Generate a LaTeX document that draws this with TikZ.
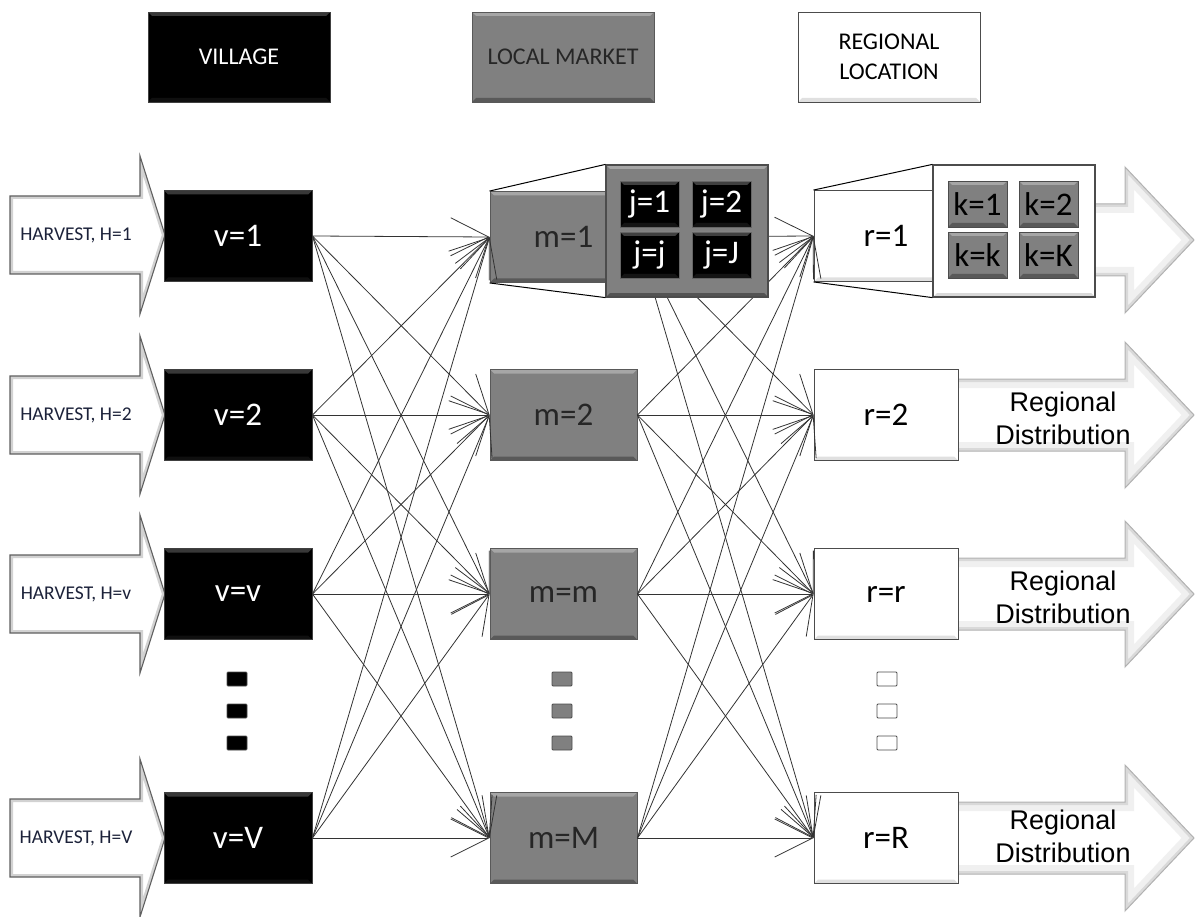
\documentclass[tikz,border=0pt]{standalone}
\usepackage{fontspec}
\setmainfont{Carlito}
\newfontfamily\arialfont{Liberation Sans}
\usetikzlibrary{arrows.meta}

\definecolor{mkt}{RGB}{128,128,128}
\definecolor{ink}{RGB}{38,38,38}
\definecolor{harv}{RGB}{28,34,58}

\tikzset{
  bevel/.style 2 args={path picture={
    \fill[#1] (path picture bounding box.north west) -- (path picture bounding box.north east)
      -- ([xshift=-4pt,yshift=-4pt]path picture bounding box.north east)
      -- ([xshift=4pt,yshift=-4pt]path picture bounding box.north west) -- cycle;
    \fill[#2] (path picture bounding box.south west)
      -- ([xshift=4pt,yshift=4pt]path picture bounding box.south west)
      -- ([xshift=-4pt,yshift=4pt]path picture bounding box.south east)
      -- (path picture bounding box.south east) -- cycle;
  }},
  box/.style={draw, line width=0.9pt, inner sep=0pt, minimum height=91pt,
    font=\fontsize{33}{36}\selectfont},
  vbox/.style={box, fill=black, draw=black!75, text=white, minimum width=148pt,
    bevel={white,opacity=.22}{white,opacity=.06}},
  mbox/.style={box, fill=mkt, draw=black!65, text=ink, minimum width=147pt,
    bevel={white,opacity=.3}{black,opacity=.3}},
  rbox/.style={box, fill=white, draw=black!70, text=black, minimum width=144pt,
    bevel={white}{black,opacity=.12}},
  legend/.style={box, minimum width=182pt, minimum height=90pt,
    font=\fontsize{24}{30}\selectfont, align=center},
  cell/.style={draw, line width=0.8pt, inner sep=0pt, minimum width=59pt,
    minimum height=46pt, font=\fontsize{33}{34}\selectfont},
  jcell/.style={cell, fill=black, draw=black!60, text=white,
    bevel={white,opacity=.25}{white,opacity=.08}},
  kcell/.style={cell, fill=mkt, draw=black!70, text=black,
    bevel={white,opacity=.3}{black,opacity=.3}},
  inset/.style={draw, line width=1.2pt, inner sep=0pt, minimum width=162pt,
    minimum height=132pt},
  dotbox/.style={draw, line width=0.8pt, inner sep=0pt, minimum width=20pt,
    minimum height=14pt, rounded corners=1pt},
  conn/.style={draw=black!80, line width=0.8pt,
    -{Straight Barb[length=38pt,width=38pt,line width=0.8pt]}},
  proj/.style={draw=black, line width=1pt},
  harvtext/.style={font=\fontsize{19.5}{21}\selectfont, text=harv},
  distext/.style={font=\arialfont\fontsize{27}{33}\selectfont, align=center, text=black},
}

% inflow arrow on the left of each village
\newcommand\HarvArrow[1]{%
  \begin{scope}
    \clip (10,#1-39) -- (140,#1-39) -- (140,#1-79) -- (165,#1) -- (140,#1+79)
      -- (140,#1+39) -- (10,#1+39) -- cycle;
    \fill[white] (0,#1-80) rectangle (170,#1+80);
    \draw[gray!35, line width=6pt] (10,#1-39) -- (140,#1-39) -- (140,#1-79) -- (165,#1)
      -- (140,#1+79) -- (140,#1+39) -- (10,#1+39) -- cycle;
  \end{scope}
  \draw[gray!75!black, line width=1.1pt] (10,#1-39) -- (140,#1-39) -- (140,#1-79)
    -- (165,#1) -- (140,#1+79) -- (140,#1+39) -- (10,#1+39) -- cycle;
}

% outflow arrow on the right of each regional location
\newcommand\RegArrow[1]{%
  \begin{scope}
    \clip (948,#1-36) -- (1125,#1-36) -- (1125,#1-73) -- (1194,#1) -- (1125,#1+73)
      -- (1125,#1+36) -- (948,#1+36) -- cycle;
    \fill[white] (940,#1-80) rectangle (1196,#1+80);
    \draw[gray!12, line width=18pt] (948,#1-36) -- (1125,#1-36) -- (1125,#1-73)
      -- (1194,#1) -- (1125,#1+73) -- (1125,#1+36) -- (948,#1+36) -- cycle;
    \draw[gray!30, line width=6pt] (948,#1-36) -- (1125,#1-36) -- (1125,#1-73)
      -- (1194,#1) -- (1125,#1+73) -- (1125,#1+36) -- (948,#1+36) -- cycle;
  \end{scope}
  \draw[gray!60, line width=1pt] (948,#1-36) -- (1125,#1-36) -- (1125,#1-73)
    -- (1194,#1) -- (1125,#1+73) -- (1125,#1+36) -- (948,#1+36) -- cycle;
}

\begin{document}
\begin{tikzpicture}[x=1pt, y=-1pt]
  \useasboundingbox (0,0) rectangle (1196,917);

  % legend
  \node[legend, fill=black, draw=black!75, text=white,
    bevel={white,opacity=.22}{white,opacity=.06}] (legV) at (239,57) {VILLAGE};
  \node[legend, fill=mkt, draw=black!65, text=ink,
    bevel={white,opacity=.3}{black,opacity=.3}] (legM) at (563,57) {LOCAL MARKET};
  \node[legend, fill=white, draw=black!70, text=black,
    bevel={white}{black,opacity=.12}] (legR) at (889,57) {REGIONAL\\LOCATION};

  % inflow and outflow arrows
  \foreach \c in {235,415,594,838} { \HarvArrow{\c} }
  \foreach \c in {240,415,594,838} { \RegArrow{\c} }

  \node[harvtext] (h1) at (76,235) {HARVEST, H=1};
  \node[harvtext] (h2) at (76,415) {HARVEST, H=2};
  \node[harvtext] (hv) at (76,594) {HARVEST, H=v};
  \node[harvtext] (hV) at (76,838) {HARVEST, H=V};

  \node[distext] (d2) at (1063,418) {Regional\\Distribution};
  \node[distext] (dr) at (1063,597) {Regional\\Distribution};
  \node[distext] (dR) at (1063,836) {Regional\\Distribution};

  % coordinates of the three columns
  \coordinate (pv1) at (238,236); \coordinate (pv2) at (238,415);
  \coordinate (pvv) at (238,594); \coordinate (pvV) at (238,838);
  \coordinate (pm1) at (563.5,237); \coordinate (pm2) at (563.5,415);
  \coordinate (pmm) at (563.5,594); \coordinate (pmM) at (563.5,838);
  \coordinate (pr1) at (886,236); \coordinate (pr2) at (886,415);
  \coordinate (prr) at (886,594); \coordinate (prR) at (886,838);

  % boxes
  \node[vbox] (v1) at (pv1) {v=1};
  \node[vbox] (v2) at (pv2) {v=2};
  \node[vbox] (vv) at (pvv) {v=v};
  \node[vbox] (vV) at (pvV) {v=V};
  \node[mbox] (m1) at (pm1) {m=1};
  \node[mbox] (m2) at (pm2) {m=2};
  \node[mbox] (mm) at (pmm) {m=m};
  \node[mbox] (mM) at (pmM) {m=M};
  \node[rbox] (r1) at (pr1) {r=1};
  \node[rbox] (r2) at (pr2) {r=2};
  \node[rbox] (rr) at (prr) {r=r};
  \node[rbox] (rR) at (prR) {r=R};

  % flows village -> market -> region
  \foreach \a in {v1,v2,vv,vV}
    \foreach \b in {m1,m2,mm,mM}
      \draw[conn] (\a.east) -- (\b.west);
  \foreach \a in {m1,m2,mm,mM}
    \foreach \b in {r1,r2,rr,rR}
      \draw[conn] (\a.east) -- (\b.west);

  % ellipsis marks
  \foreach \y [count=\i] in {679,711,743} {
    \node[dotbox, fill=black, draw=black!70] (ev\i) at (237,\y) {};
    \node[dotbox, fill=mkt, draw=black!70] (em\i) at (562,\y) {};
    \node[dotbox, fill=white, draw=black!70] (er\i) at (887,\y) {};
  }

  % market m=1 opened up into its sub-units j
  \node[inset, fill=mkt, draw=black!70, bevel={white,opacity=.3}{black,opacity=.35}]
    (jin) at (687,231) {};
  \draw[proj] (m1.north west) -- (jin.north west);
  \draw[proj] (m1.south west) -- (jin.south west);
  \node[jcell] (j1) at (649.5,204) {j=1};
  \node[jcell] (j2) at (721.5,204) {j=2};
  \node[jcell] (jj) at (649.5,255) {j=j};
  \node[jcell] (jJ) at (721.5,255) {j=J};

  % regional location r=1 opened up into its sub-units k
  \node[inset, fill=white, draw=black!70, bevel={white}{black,opacity=.15}]
    (kin) at (1014,231) {};
  \draw[proj] (r1.north west) -- (kin.north west);
  \draw[proj] (r1.south west) -- (kin.south west);
  \node[kcell] (k1) at (977.5,204) {k=1};
  \node[kcell] (k2) at (1048.5,204) {k=2};
  \node[kcell] (kk) at (977.5,255) {k=k};
  \node[kcell] (kK) at (1048.5,255) {k=K};
\end{tikzpicture}
\end{document}
